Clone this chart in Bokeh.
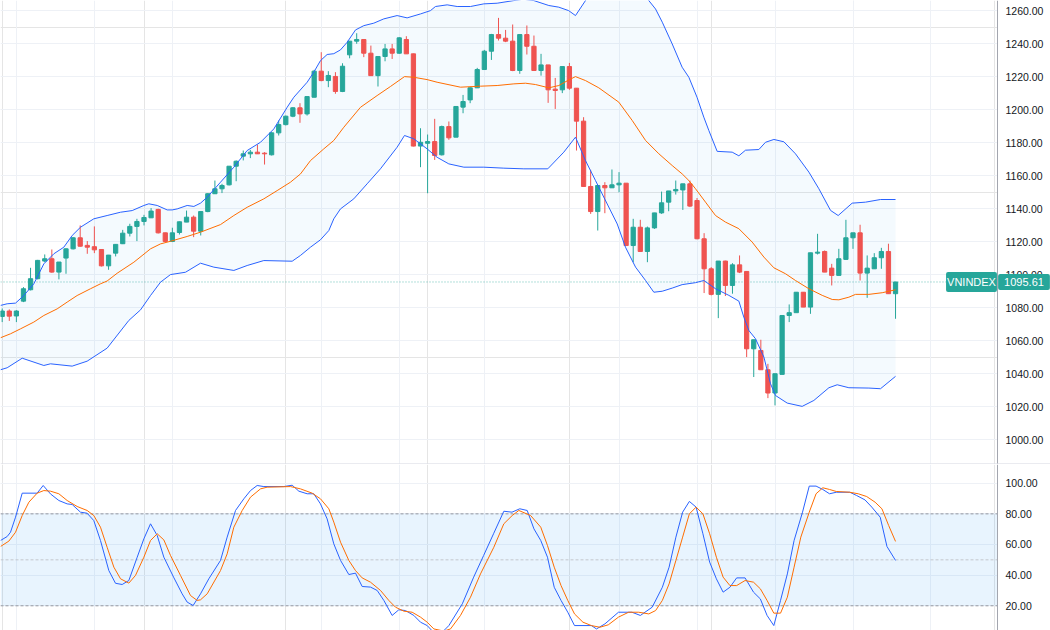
from bokeh.plotting import figure
from bokeh.layouts import column
from bokeh.models import (Range1d, LinearAxis, FixedTicker, PrintfTickFormatter, Span,
                          BoxAnnotation, Label, ColumnDataSource, Grid)
from bokeh.embed import file_html
from bokeh.resources import INLINE

# ---------------- data ----------------
SYMBOL = "VNINDEX"
LAST_PRICE = 1095.61

OPEN = [1074.7, 1078.0, 1075.0, 1084.0, 1090.9, 1097.6, 1108.3, 1109.7, 1101.6, 1110.1,
        1115.7, 1122.4, 1117.8, 1117.0, 1115.3, 1105.4, 1113.1, 1118.8, 1125.2, 1129.3,
        1132.3, 1134.5, 1139.6, 1125.4, 1120.2, 1125.6, 1131.9, 1134.9, 1126.4, 1138.3,
        1149.1, 1152.1, 1154.5, 1165.8, 1171.9, 1173.3, 1174.3, 1173.7, 1172.7, 1186.0,
        1191.0, 1196.1, 1201.2, 1197.5, 1207.6, 1223.4, 1217.7, 1220.2, 1211.1, 1233.3,
        1241.6, 1242.6, 1234.3, 1220.7, 1232.3, 1236.9, 1234.3, 1242.6, 1233.9, 1178.0,
        1179.7, 1180.7, 1172.7, 1189.8, 1183.4, 1201.6, 1206.0, 1213.3, 1224.4, 1235.5,
        1245.6, 1243.4, 1241.6, 1223.8, 1245.6, 1238.5, 1223.8, 1227.2, 1212.5, 1212.1,
        1226.2, 1213.1, 1193.1, 1153.5, 1138.3, 1154.1, 1152.7, 1154.5, 1155.5, 1117.7,
        1128.8, 1114.1, 1128.4, 1137.5, 1144.0, 1150.8, 1151.4, 1155.1, 1145.0, 1121.8,
        1103.6, 1088.1, 1108.3, 1093.5, 1106.0, 1102.0, 1055.1, 1054.1, 1042.4, 1028.3,
        1039.6, 1075.3, 1077.0, 1089.4, 1080.4, 1113.1, 1114.1, 1104.0, 1099.6, 1109.3,
        1122.4, 1125.4, 1101.0, 1103.6, 1110.3, 1114.1, 1088.5]
HIGH = [1079.5, 1079.0, 1078.5, 1092.5, 1104.2, 1109.0, 1112.3, 1115.3, 1107.7, 1116.0,
        1122.8, 1129.9, 1120.4, 1129.3, 1115.5, 1112.0, 1118.5, 1127.2, 1130.9, 1133.9,
        1136.3, 1140.4, 1140.0, 1125.5, 1128.5, 1132.2, 1138.9, 1135.9, 1138.3, 1149.4,
        1157.1, 1155.1, 1165.8, 1169.3, 1175.3, 1175.7, 1178.9, 1174.3, 1186.4, 1193.5,
        1196.5, 1201.6, 1204.0, 1208.0, 1224.2, 1234.9, 1223.4, 1222.8, 1228.2, 1241.6,
        1246.4, 1242.6, 1238.9, 1232.3, 1239.9, 1239.9, 1244.0, 1244.6, 1234.0, 1188.8,
        1185.0, 1194.5, 1190.4, 1192.9, 1202.0, 1209.0, 1213.7, 1225.4, 1236.3, 1246.0,
        1255.7, 1248.4, 1251.7, 1245.6, 1251.1, 1245.0, 1233.9, 1227.2, 1219.3, 1226.2,
        1228.4, 1213.1, 1195.5, 1163.6, 1154.1, 1156.1, 1163.8, 1162.2, 1155.5, 1133.9,
        1133.3, 1129.2, 1137.5, 1150.4, 1150.8, 1157.1, 1155.1, 1157.1, 1146.5, 1125.2,
        1104.6, 1108.3, 1108.5, 1107.0, 1111.7, 1102.0, 1060.6, 1060.6, 1046.0, 1040.0,
        1075.3, 1082.0, 1089.4, 1089.4, 1113.3, 1124.8, 1114.7, 1106.6, 1115.7, 1133.3,
        1125.4, 1130.3, 1111.7, 1113.1, 1116.3, 1118.8, 1095.61]
LOW = [1071.3, 1072.0, 1071.3, 1083.4, 1090.5, 1097.2, 1107.6, 1101.2, 1097.2, 1100.6,
       1115.3, 1117.0, 1112.7, 1113.1, 1105.0, 1103.0, 1111.1, 1118.6, 1123.2, 1120.4,
       1129.9, 1134.5, 1125.0, 1120.0, 1119.8, 1124.4, 1131.9, 1122.8, 1123.8, 1137.9,
       1149.0, 1149.5, 1154.1, 1156.7, 1169.3, 1170.7, 1173.2, 1166.8, 1172.3, 1184.4,
       1190.5, 1195.5, 1192.1, 1196.5, 1207.6, 1217.3, 1213.7, 1209.7, 1210.7, 1231.2,
       1240.0, 1231.9, 1220.7, 1214.1, 1229.4, 1230.8, 1233.9, 1233.9, 1177.8, 1165.2,
       1149.4, 1169.6, 1172.3, 1181.8, 1183.4, 1197.9, 1204.0, 1213.3, 1224.4, 1230.2,
       1242.0, 1241.0, 1223.4, 1221.8, 1233.5, 1223.8, 1220.7, 1204.2, 1200.5, 1210.1,
       1212.1, 1175.3, 1153.5, 1136.9, 1126.8, 1137.3, 1152.7, 1150.0, 1117.7, 1107.6,
       1114.1, 1107.6, 1127.8, 1136.9, 1138.5, 1148.6, 1139.3, 1141.0, 1121.5, 1088.9,
       1087.5, 1073.7, 1087.1, 1088.5, 1101.0, 1050.1, 1038.0, 1042.4, 1025.2, 1020.8,
       1039.6, 1071.3, 1077.0, 1080.4, 1076.3, 1112.3, 1101.6, 1093.5, 1099.6, 1109.0,
       1115.7, 1096.5, 1086.0, 1103.6, 1103.6, 1088.5, 1073.3]
CLOSE = [1078.0, 1074.9, 1078.0, 1091.5, 1097.6, 1108.7, 1109.7, 1101.6, 1107.7, 1115.7,
         1122.4, 1117.3, 1116.7, 1115.1, 1105.4, 1111.9, 1118.4, 1125.2, 1129.3, 1132.3,
         1134.7, 1138.6, 1125.4, 1120.2, 1125.4, 1132.1, 1134.9, 1126.4, 1138.3, 1149.1,
         1152.1, 1154.1, 1165.8, 1168.8, 1173.3, 1174.3, 1173.3, 1173.3, 1186.0, 1191.0,
         1196.1, 1201.2, 1197.5, 1208.0, 1223.4, 1217.7, 1220.8, 1211.1, 1226.4, 1241.6,
         1242.6, 1234.3, 1220.7, 1232.3, 1236.9, 1234.3, 1243.6, 1233.9, 1178.0, 1180.3,
         1180.7, 1172.3, 1189.8, 1183.0, 1202.0, 1205.0, 1213.3, 1224.4, 1235.5, 1245.6,
         1243.4, 1241.6, 1223.8, 1245.6, 1238.5, 1223.8, 1227.2, 1212.1, 1211.7, 1226.2,
         1213.1, 1193.1, 1153.5, 1138.3, 1154.1, 1152.7, 1154.5, 1155.5, 1117.7, 1128.8,
         1114.1, 1128.4, 1137.5, 1143.6, 1150.8, 1151.7, 1155.1, 1141.6, 1121.8, 1103.6,
         1088.1, 1108.3, 1093.5, 1106.0, 1101.6, 1055.1, 1060.6, 1042.4, 1028.3, 1040.0,
         1075.3, 1077.0, 1089.4, 1080.4, 1113.3, 1113.7, 1101.6, 1099.6, 1109.7, 1122.4,
         1125.4, 1101.0, 1104.0, 1110.3, 1114.1, 1088.5, 1095.61]

# Bollinger bands (bar index, value) vertices
BB_UPPER = [(-0.24, 1081.4), (0.7, 1082.4), (1.88, 1082.8), (3.05, 1087.4), (4.46, 1094.5),
            (5.87, 1106.6), (7.28, 1112.7), (8.69, 1116.7), (9.87, 1123.8), (11.04, 1128.8),
            (12.92, 1133.9), (14.8, 1135.9), (16.69, 1137.9), (18.33, 1138.9), (19.98, 1142.0),
            (20.68, 1143.0), (21.86, 1142.0), (23.27, 1139.3), (23.97, 1139.3), (24.68, 1139.9),
            (26.09, 1142.0), (27.03, 1141.4), (27.97, 1143.4), (28.91, 1147.0), (30.79, 1156.1),
            (32.67, 1165.2), (34.55, 1175.3), (36.43, 1180.3), (38.31, 1188.4), (40.19, 1201.5),
            (41.13, 1207.6), (43.01, 1216.7), (43.95, 1222.8), (44.89, 1229.8), (45.83, 1233.5),
            (46.77, 1234.0), (47.71, 1236.3), (48.65, 1240.9), (49.83, 1248.4), (51.0, 1251.0),
            (52.41, 1252.5), (53.82, 1255.1), (55.7, 1257.1), (57.11, 1255.7), (59.0, 1258.1),
            (60.4, 1260.1), (61.11, 1262.6), (62.76, 1263.6), (64.17, 1262.6), (66.05, 1262.6),
            (67.93, 1264.2), (69.81, 1264.6), (72.16, 1266.2), (73.5, 1267.0), (74.98, 1266.2),
            (77.1, 1263.2), (78.5, 1262.2), (79.9, 1260.1), (80.86, 1257.1), (82.27, 1266.2),
            (84.0, 1277.0), (86.5, 1285.0), (89.5, 1276.0), (91.2, 1266.2), (92.15, 1261.1),
            (93.1, 1253.1), (94.5, 1239.9), (95.9, 1225.8), (96.85, 1219.7), (98.0, 1207.6),
            (98.96, 1195.5), (99.67, 1187.4), (100.84, 1174.8), (102.96, 1174.3), (103.9, 1172.1),
            (104.84, 1175.5), (106.72, 1175.9), (107.66, 1180.3), (108.84, 1182.0), (110.25, 1180.6),
            (111.89, 1173.3), (113.78, 1162.2), (115.19, 1152.1), (116.83, 1139.0), (117.91, 1135.9),
            (119.88, 1143.4), (121.77, 1144.0), (123.88, 1145.6), (126.0, 1145.6)]
BB_BASIS = [(-0.24, 1061.8), (1.17, 1064.2), (2.58, 1067.2), (4.46, 1071.3), (5.87, 1075.3),
            (7.75, 1079.3), (9.16, 1083.4), (10.57, 1087.4), (12.45, 1091.5), (13.86, 1094.5),
            (14.8, 1096.2), (16.21, 1100.9), (18.57, 1107.6), (20.92, 1115.7), (22.33, 1118.7),
            (23.74, 1120.3), (26.09, 1123.2), (27.97, 1125.8), (30.79, 1130.4), (32.67, 1135.9),
            (34.55, 1140.9), (36.9, 1146.0), (38.78, 1151.0), (40.66, 1156.1), (42.07, 1161.1),
            (43.48, 1169.2), (45.36, 1176.3), (46.77, 1181.4), (48.18, 1189.4), (50.53, 1201.5),
            (52.88, 1208.6), (54.76, 1214.1), (56.74, 1220.1), (58.05, 1219.7), (59.93, 1218.3),
            (61.34, 1216.7), (64.64, 1213.7), (67.46, 1214.3), (69.81, 1214.7), (72.16, 1215.7),
            (73.81, 1216.1), (75.22, 1215.3), (77.1, 1213.3), (78.51, 1214.7), (79.92, 1218.1),
            (80.86, 1220.1), (82.27, 1217.7), (84.15, 1213.3), (86.97, 1204.6), (88.86, 1193.5),
            (90.74, 1181.4), (92.62, 1173.3), (94.5, 1166.2), (95.91, 1161.1), (96.85, 1157.1),
            (97.79, 1152.1), (99.2, 1144.0), (100.61, 1135.9), (102.02, 1131.9), (103.9, 1127.9),
            (105.78, 1119.8), (107.43, 1110.7), (108.84, 1104.2), (110.48, 1100.6), (111.89, 1096.5),
            (113.78, 1091.5), (115.66, 1087.5), (117.07, 1085.0), (118.01, 1084.8), (119.42, 1086.4),
            (120.36, 1088.1), (122.24, 1088.1), (124.12, 1089.1), (126.0, 1090.9)]
BB_LOWER = [(-0.24, 1042.4), (0.7, 1043.6), (2.82, 1049.4), (5.87, 1045.0), (6.81, 1046.0),
            (9.87, 1044.6), (11.98, 1047.6), (14.8, 1055.5), (17.86, 1072.3), (19.51, 1078.7),
            (20.92, 1087.4), (22.33, 1095.5), (23.74, 1100.1), (25.85, 1101.5), (27.97, 1107.0),
            (29.85, 1104.6), (32.67, 1102.6), (34.55, 1105.6), (36.9, 1108.6), (40.9, 1108.2),
            (42.07, 1111.7), (43.48, 1116.7), (44.89, 1121.2), (46.07, 1126.8), (46.77, 1133.9),
            (47.71, 1139.9), (49.59, 1146.0), (51.47, 1155.1), (53.35, 1164.2), (55.7, 1177.3),
            (56.74, 1184.4), (58.05, 1182.4), (59.93, 1176.3), (61.34, 1171.2), (62.99, 1167.2),
            (65.11, 1165.2), (67.93, 1165.2), (70.75, 1164.6), (73.57, 1164.2), (76.95, 1164.2),
            (79.21, 1174.3), (80.86, 1183.4), (82.27, 1169.2), (83.68, 1157.1), (84.62, 1149.0),
            (86.74, 1130.8), (87.91, 1116.7), (89.33, 1104.6), (90.74, 1096.5), (91.91, 1089.4),
            (93.09, 1090.0), (94.5, 1091.9), (95.9, 1094.0), (97.79, 1095.2), (98.97, 1096.5),
            (100.61, 1091.5), (102.49, 1087.5), (103.9, 1084.0), (104.6, 1074.3), (105.31, 1066.2),
            (106.25, 1061.2), (107.43, 1050.1), (108.37, 1033.9), (109.07, 1026.8), (110.72, 1022.2),
            (112.83, 1020.2), (114.48, 1023.8), (116.6, 1031.5), (117.77, 1033.3), (119.42, 1031.5),
            (122.24, 1031.3), (123.88, 1030.9), (126.0, 1038.4)]

# Stochastic %K and %D (bar index, value) vertices
STOCH_K = [(-0.24, 62.6), (0.70, 65.2), (1.17, 68.0), (1.88, 77.8), (2.82, 93.5), (4.93, 93.5),
           (5.78, 98.5), (6.81, 93.0), (7.99, 88.7), (9.16, 86.5), (9.87, 86.1), (11.04, 81.1),
           (11.98, 80.4), (12.92, 75.6), (13.86, 62.6), (15.04, 43.0), (15.98, 34.7), (16.92, 33.9),
           (17.86, 36.5), (19.04, 51.7), (19.98, 63.7), (20.92, 73.5), (21.86, 65.9), (22.8, 51.7),
           (24.17, 38.7), (25.38, 27.8), (26.09, 22.4), (26.93, 20.2), (27.97, 27.8), (29.14, 37.6),
           (30.79, 49.6), (31.73, 64.8), (32.91, 82.2), (34.08, 89.8), (35.02, 95.2), (35.96, 98.5),
           (36.9, 97.8), (39.72, 97.8), (40.9, 98.7), (41.84, 94.8), (43.01, 93.1), (43.95, 93.1),
           (44.89, 86.5), (45.83, 76.7), (46.77, 60.4), (47.72, 49.6), (48.89, 40.4), (49.83, 41.3),
           (50.77, 32.6), (51.95, 32.2), (52.89, 30.0), (53.83, 23.5), (55.0, 13.7), (55.94, 17.4),
           (56.88, 16.9), (58.06, 13.7), (59.0, 9.3), (59.94, 7.1), (60.88, 2.5), (61.8, 1.5),
           (63.0, 7.1), (64.9, 21.3), (66.5, 38.7), (67.9, 52.8), (69.3, 67.0), (70.75, 81.7),
           (71.9, 81.1), (73.0, 83.3), (74.05, 82.2), (75.0, 70.2), (75.96, 62.6), (76.91, 51.7),
           (77.86, 32.1), (78.82, 23.5), (79.77, 15.8), (80.72, 7.1), (83.1, 7.1), (83.82, 4.9),
           (85.01, 8.2), (86.92, 15.8), (88.82, 15.8), (90.01, 13.7), (91.68, 19.1), (93.11, 32.1),
           (94.06, 45.2), (95.02, 64.8), (95.97, 81.1), (96.92, 88.1), (97.87, 84.4), (98.83, 67.0),
           (99.78, 48.5), (100.73, 37.6), (101.68, 28.9), (102.64, 32.1), (103.59, 38.2), (104.78, 38.2),
           (105.97, 28.9), (106.93, 24.5), (107.88, 13.7), (108.83, 7.1), (109.78, 23.5), (110.74, 40.8),
           (111.69, 62.6), (112.88, 81.1), (113.83, 98.1), (114.79, 98.1), (115.74, 95.9), (116.69, 93.1),
           (117.64, 94.1), (119.55, 94.1), (120.5, 92.0), (121.69, 89.1), (122.65, 84.4), (123.84, 77.8),
           (124.79, 58.7), (126.0, 49.6)]
STOCH_D = [(-0.24, 58.7), (0.94, 62.2), (1.88, 68.0), (2.82, 78.9), (3.76, 87.6), (4.93, 93.5),
           (5.87, 95.2), (6.81, 94.8), (7.99, 93.1), (9.16, 88.7), (10.57, 84.8), (11.98, 82.2),
           (12.92, 78.9), (13.86, 71.3), (14.8, 58.2), (15.75, 45.2), (16.69, 37.6), (17.86, 34.8),
           (18.8, 39.8), (19.98, 51.7), (20.92, 62.6), (21.86, 67.0), (22.8, 63.0), (23.74, 52.8),
           (25.15, 39.8), (26.56, 26.7), (27.5, 23.5), (27.97, 23.9), (28.91, 27.8), (30.79, 43.0),
           (31.73, 53.9), (32.67, 71.3), (33.85, 82.2), (35.02, 90.9), (36.43, 96.3), (37.37, 97.4),
           (40.66, 97.8), (42.07, 96.3), (43.72, 93.5), (44.89, 89.8), (46.07, 83.3), (46.77, 74.6),
           (47.72, 61.5), (48.89, 49.6), (49.83, 43.0), (50.77, 38.2), (51.95, 35.4), (53.36, 30.0),
           (54.53, 23.5), (55.47, 19.1), (56.65, 16.5), (57.82, 15.8), (59.0, 12.6), (59.94, 9.3),
           (60.88, 4.9), (62.29, 3.5), (63.23, 4.9), (64.64, 13.7), (66.05, 25.6), (67.46, 40.8),
           (69.34, 58.2), (70.75, 73.5), (71.93, 78.9), (72.87, 82.2), (74.53, 78.9), (75.96, 71.3),
           (76.91, 59.3), (77.86, 45.2), (78.82, 33.2), (79.77, 23.5), (80.72, 14.7), (81.91, 9.3),
           (83.1, 7.1), (84.3, 6.0), (85.49, 7.6), (86.92, 12.6), (88.35, 15.8), (89.77, 15.8),
           (91.2, 14.7), (92.16, 16.9), (93.11, 23.5), (94.06, 34.3), (95.02, 49.6), (95.97, 64.8),
           (96.92, 80.0), (97.87, 84.4), (98.83, 80.0), (99.78, 67.0), (100.73, 51.7), (101.68, 38.7),
           (102.64, 33.2), (103.59, 33.2), (104.78, 36.5), (105.97, 35.4), (106.93, 31.1), (107.88, 23.5),
           (108.83, 15.2), (109.78, 15.2), (110.74, 25.6), (111.69, 45.2), (112.64, 64.8), (113.83, 81.1),
           (114.79, 93.1), (115.74, 97.0), (116.69, 95.9), (117.64, 94.6), (119.55, 94.1), (120.74, 93.1),
           (121.93, 91.3), (123.12, 87.6), (124.08, 83.3), (125.03, 72.4), (126.0, 62.0)]

PRICE_TICKS = [1000, 1020, 1040, 1060, 1080, 1100, 1120, 1140, 1160, 1180, 1200, 1220, 1240, 1260]
STOCH_TICKS = [20, 40, 60, 80, 100]
STOCH_LEVELS = [80, 50, 20]
TIME_GRID = [2, 13, 24, 45, 56, 68, 87, 98, 109, 120, 131]

# ---------------- styling / layout ----------------
UP, DOWN = "#26a69a", "#ef5350"
BLUE, ORANGE = "#2962ff", "#ff6d00"
GRID = "#eef1f6"
FONT = "Liberation Sans"
BAR_PX = 7.09          # pixel distance between bars
X_LEFT = -0.24         # bar index at the left edge
X_RIGHT = X_LEFT + 1050 / BAR_PX
AXIS_X = X_LEFT + 997 / BAR_PX   # price scale position
X_RANGE = Range1d(X_LEFT, X_RIGHT)


def base_fig(frame_h, y_lo, y_hi, ticks):
    f = figure(frame_width=1050, frame_height=frame_h, x_range=X_RANGE,
               y_range=Range1d(y_lo, y_hi), output_backend="svg", toolbar_location=None,
               x_axis_location=None, y_axis_location=None,
               min_border_left=0, min_border_right=0, min_border_top=0, min_border_bottom=0,
               outline_line_color=None, background_fill_color="white", border_fill_color="white")
    f.add_layout(Grid(dimension=0, ticker=FixedTicker(ticks=TIME_GRID), grid_line_color=GRID))
    f.add_layout(Grid(dimension=1, ticker=FixedTicker(ticks=ticks), grid_line_color=GRID,
                      cross_bounds=(X_LEFT, AXIS_X)))
    ax = LinearAxis(ticker=FixedTicker(ticks=ticks), formatter=PrintfTickFormatter(format="%.2f"),
                    fixed_location=AXIS_X,
                    major_tick_out=0, major_tick_in=0, minor_tick_out=0, minor_tick_in=0,
                    major_label_standoff=8, axis_line_color="#a3a6af",
                    major_label_text_font=FONT, major_label_text_font_size="10.5px",
                    major_label_text_color="#131722")
    f.add_layout(ax, "right")
    return f


# ---------------- main price pane ----------------
p = base_fig(464, 984.97, 1266.24, PRICE_TICKS)

ux, uy = zip(*BB_UPPER)
mx, my = zip(*BB_BASIS)
lx, ly = zip(*BB_LOWER)
p.patch(list(ux) + list(lx)[::-1], list(uy) + list(ly)[::-1],
        fill_color="#2196f3", fill_alpha=0.05, line_color=None)

idx = list(range(len(CLOSE)))
colors = [UP if c >= o else DOWN for o, c in zip(OPEN, CLOSE)]
src = ColumnDataSource(dict(x=idx, o=OPEN, h=HIGH, l=LOW, c=CLOSE,
                            top=[max(o, c) for o, c in zip(OPEN, CLOSE)],
                            bot=[min(o, c) for o, c in zip(OPEN, CLOSE)],
                            col=colors))
p.segment(x0="x", y0="l", x1="x", y1="h", line_color="col", line_width=1, source=src)
p.vbar(x="x", width=0.6, top="top", bottom="bot", fill_color="col", line_color="col",
       line_width=1, source=src)

p.line(ux, uy, line_color=BLUE, line_width=1)
p.line(lx, ly, line_color=BLUE, line_width=1)
p.line(mx, my, line_color=ORANGE, line_width=1)

p.add_layout(Span(location=LAST_PRICE, dimension="width", line_color=UP, line_alpha=0.7,
                  line_dash="1 2", line_width=1, level="underlay"))
# white price-scale strip (keeps grid/lines out of the scale area; axis drawn above it)
p.add_layout(BoxAnnotation(left=AXIS_X, fill_color="white", fill_alpha=1.0,
                           line_color=None, level="glyph"))
p.add_layout(Span(location=985.33, dimension="width", line_color="#dcdfe6", line_width=1))

p.add_layout(Label(x=971, y=LAST_PRICE, x_units="screen", y_units="data", text=SYMBOL,
                   text_color="white", text_font=FONT, text_font_size="11px",
                   text_align="center", text_baseline="middle",
                   background_fill_color=UP, padding=dict(left=1, right=1, top=4, bottom=4),
                   border_radius=2))
p.add_layout(Label(x=1023.5, y=LAST_PRICE, x_units="screen", y_units="data",
                   text="%.2f" % LAST_PRICE, text_color="white", text_font=FONT,
                   text_font_size="11px", text_align="center", text_baseline="middle",
                   background_fill_color=UP, padding=dict(left=6, right=6, top=4, bottom=4),
                   border_radius=2))

# ---------------- stochastic pane ----------------
q = base_fig(166, 3.88, 112.2, STOCH_TICKS)
q.add_layout(BoxAnnotation(bottom=20, top=80, right=AXIS_X, fill_color="#2196f3",
                           fill_alpha=0.1, line_color=None, level="underlay"))
for lv in STOCH_LEVELS:
    q.add_layout(Span(location=lv, dimension="width",
                      line_color="#9598a1" if lv != 50 else "#c3c6cd",
                      line_dash="3 2", line_width=1, level="underlay"))
q.add_layout(BoxAnnotation(left=AXIS_X, fill_color="white", fill_alpha=1.0,
                           line_color=None, level="glyph"))
kx, ky = zip(*STOCH_K)
dx, dy = zip(*STOCH_D)
q.line(kx, ky, line_color=BLUE, line_width=1)
q.line(dx, dy, line_color=ORANGE, line_width=1)

layout = column(p, q, spacing=0)
open("out.html", "w").write(file_html(layout, INLINE))
